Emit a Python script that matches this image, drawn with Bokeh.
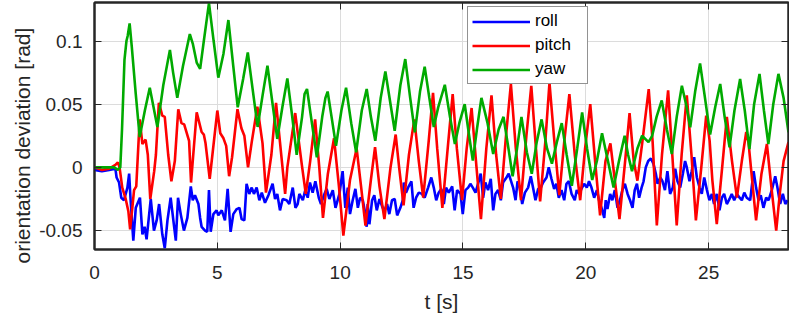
from bokeh.plotting import figure
from bokeh.models import (FixedTicker, NumeralTickFormatter, LinearAxis, Range1d,
                          CustomJSTickFormatter, Title)
from bokeh.embed import file_html
from bokeh.resources import INLINE

x_ticks = [0, 5, 10, 15, 20, 25]
y_ticks = [-0.05, 0, 0.05, 0.1]

roll_t = [
0.00, 0.30, 0.60, 0.85, 0.90, 1.00, 1.09, 1.20, 1.34, 1.41, 1.47, 1.58, 1.68, 1.85, 1.95, 2.04, 2.12, 2.29, 2.42, 2.53,
2.63, 2.76, 2.86, 2.97, 3.10, 3.21, 3.31, 3.40, 3.51, 3.64, 3.78, 3.92, 4.00, 4.09, 4.23, 4.30, 4.36, 4.50, 4.59, 4.66,
4.73, 4.84, 4.97, 5.04, 5.18, 5.31, 5.42, 5.54, 5.65, 5.79, 5.90, 5.99, 6.10, 6.19, 6.30, 6.40, 6.49, 6.60, 6.71, 6.81,
6.94, 7.08, 7.25, 7.35, 7.44, 7.55, 7.66, 7.82, 7.93, 8.07, 8.18, 8.27, 8.34, 8.48, 8.58, 8.68, 8.77, 8.88, 8.99, 9.13,
9.22, 9.36, 9.45, 9.56, 9.70, 9.81, 9.97, 10.10, 10.21, 10.31, 10.40, 10.51, 10.62, 10.72, 10.81, 10.92, 11.03, 11.08, 11.12, 11.19,
11.30, 11.39, 11.49, 11.60, 11.73, 11.81, 11.91, 12.00, 12.11, 12.22, 12.32, 12.45, 12.55, 12.59, 12.68, 12.79, 12.90, 12.99, 13.09, 13.20,
13.33, 13.44, 13.58, 13.71, 13.81, 13.91, 14.01, 14.12, 14.22, 14.31, 14.42, 14.56, 14.66, 14.76, 14.90, 14.99, 15.10, 15.21, 15.30, 15.40,
15.51, 15.64, 15.72, 15.82, 15.91, 16.02, 16.13, 16.23, 16.32, 16.43, 16.54, 16.63, 16.77, 16.86, 17.04, 17.14, 17.22, 17.31, 17.41, 17.52,
17.65, 17.76, 17.85, 17.95, 18.06, 18.17, 18.26, 18.40, 18.49, 18.60, 18.71, 18.80, 18.90, 19.01, 19.12, 19.21, 19.31, 19.42, 19.55, 19.63,
19.73, 19.82, 19.93, 20.04, 20.13, 20.23, 20.34, 20.45, 20.54, 20.64, 20.75, 20.81, 20.88, 20.99, 21.08, 21.18, 21.29, 21.40, 21.49, 21.59,
21.70, 21.80, 21.90, 21.99, 22.08, 22.17, 22.27, 22.35, 22.44, 22.54, 22.65, 22.75, 22.85, 22.92, 23.03, 23.12, 23.22, 23.32, 23.43, 23.54,
23.64, 23.73, 23.84, 23.95, 24.04, 24.11, 24.22, 24.31, 24.41, 24.52, 24.63, 24.72, 24.82, 24.93, 25.03, 25.13, 25.22, 25.33, 25.44, 25.54,
25.63, 25.74, 25.85, 25.94, 26.04, 26.15, 26.26, 26.35, 26.45, 26.55, 26.69, 26.83, 26.93, 27.03, 27.12, 27.23, 27.34, 27.44, 27.57, 27.71,
27.80, 27.91, 28.02, 28.12, 28.21]
roll = [
-0.002, -0.003, -0.002, -0.001, -0.008, -0.012, -0.024, -0.026, -0.016, -0.005, -0.026, -0.058, -0.032, -0.024, -0.053, -0.047, -0.057, -0.025, -0.050, -0.042,
-0.029, -0.053, -0.064, -0.042, -0.024, -0.042, -0.058, -0.024, -0.037, -0.050, -0.040, -0.015, -0.026, -0.022, -0.029, -0.040, -0.047, -0.050, -0.051, -0.018,
-0.051, -0.037, -0.034, -0.038, -0.034, -0.042, -0.017, -0.051, -0.037, -0.033, -0.032, -0.041, -0.042, -0.013, -0.021, -0.016, -0.021, -0.016, -0.026, -0.020,
-0.028, -0.022, -0.013, -0.025, -0.021, -0.034, -0.025, -0.026, -0.029, -0.016, -0.032, -0.029, -0.021, -0.026, -0.018, -0.024, -0.012, -0.020, -0.011, -0.024,
-0.029, -0.021, -0.017, -0.025, -0.018, -0.032, -0.021, -0.003, -0.032, -0.016, -0.037, -0.026, -0.017, -0.032, -0.024, -0.026, -0.037, -0.047, -0.029, -0.045,
-0.026, -0.022, -0.034, -0.025, -0.032, -0.034, -0.029, -0.037, -0.026, -0.025, -0.038, -0.032, -0.026, -0.012, -0.020, -0.015, -0.011, -0.032, -0.024, -0.020,
-0.021, -0.024, -0.016, -0.008, -0.016, -0.026, -0.020, -0.017, -0.029, -0.016, -0.020, -0.015, -0.034, -0.018, -0.021, -0.037, -0.018, -0.016, -0.013, -0.016,
-0.020, -0.011, -0.005, -0.024, -0.012, -0.018, -0.009, -0.034, -0.021, -0.018, -0.026, -0.012, -0.008, -0.005, -0.016, -0.026, -0.011, -0.016, -0.029, -0.020,
-0.016, -0.007, -0.016, -0.026, -0.017, -0.016, -0.012, -0.008, 0.000, -0.009, -0.017, -0.013, -0.024, -0.018, -0.026, -0.013, -0.011, -0.021, -0.026, -0.018,
-0.021, -0.017, -0.013, -0.016, -0.011, -0.016, -0.024, -0.018, -0.026, -0.032, -0.040, -0.026, -0.033, -0.021, -0.026, -0.018, -0.032, -0.025, -0.018, -0.013,
-0.021, -0.026, -0.032, -0.018, -0.013, -0.024, -0.016, -0.011, 0.000, 0.005, 0.007, 0.003, -0.005, -0.013, -0.008, -0.011, -0.018, -0.003, -0.021, -0.016,
-0.001, -0.011, -0.016, -0.005, 0.005, 0.000, -0.011, -0.003, 0.008, -0.008, -0.016, -0.021, -0.008, -0.018, -0.026, -0.021, -0.029, -0.021, -0.034, -0.024,
-0.021, -0.029, -0.025, -0.021, -0.026, -0.021, -0.024, -0.026, -0.020, -0.024, -0.026, -0.003, -0.016, -0.026, -0.022, -0.032, -0.024, -0.026, -0.018, -0.007,
-0.016, -0.029, -0.021, -0.029, -0.026]

pitch_t = [
0.00, 0.30, 0.60, 0.85, 0.95, 1.02, 1.13, 1.27, 1.38, 1.45, 1.55, 1.61, 1.70, 1.84, 1.95, 2.08, 2.17, 2.27, 2.43, 2.50,
2.62, 2.76, 2.86, 3.00, 3.13, 3.27, 3.41, 3.54, 3.65, 3.85, 3.93, 4.02, 4.16, 4.36, 4.45, 4.52, 4.69, 4.80, 5.00, 5.12,
5.25, 5.36, 5.48, 5.60, 5.82, 5.98, 6.10, 6.25, 6.40, 6.63, 6.84, 6.98, 7.20, 7.39, 7.55, 7.76, 7.85, 8.17, 8.44, 8.60,
8.78, 8.98, 9.15, 9.30, 9.50, 9.75, 9.95, 10.13, 10.40, 10.67, 10.85, 11.03, 11.25, 11.42, 11.60, 11.80, 12.05, 12.26, 12.40, 12.58,
12.80, 13.02, 13.20, 13.38, 13.60, 13.78, 13.95, 14.16, 14.40, 14.58, 14.75, 14.96, 15.15, 15.35, 15.55, 15.73, 15.95, 16.16, 16.35, 16.54,
16.75, 16.95, 17.15, 17.36, 17.58, 17.78, 17.95, 18.14, 18.35, 18.52, 18.70, 18.92, 19.12, 19.33, 19.55, 19.77, 19.97, 20.18, 20.40, 20.58,
20.80, 21.00, 21.18, 21.37, 21.60, 21.78, 21.95, 22.10, 22.30, 22.56, 22.72, 22.89, 23.10, 23.35, 23.52, 23.70, 23.90, 24.11, 24.30, 24.48,
24.70, 24.90, 25.04, 25.15, 25.33, 25.55, 25.74, 25.95, 26.15, 26.35, 26.53, 26.62, 26.93, 27.15, 27.37, 27.55, 27.75, 27.90, 28.05, 28.25]
pitch = [
0.000, -0.002, -0.001, 0.002, 0.004, 0.000, -0.016, -0.025, -0.035, -0.049, -0.030, -0.018, -0.015, 0.038, 0.0185, 0.022, 0.010, -0.025, -0.003, 0.010,
0.051, 0.041, 0.040, 0.010, -0.011, 0.005, 0.046, 0.035, 0.034, 0.021, -0.012, 0.010, 0.0435, 0.028, 0.026, 0.019, -0.009, 0.010, 0.045, 0.027,
0.023, 0.017, -0.007, 0.008, 0.046, 0.031, 0.025, 0.000, 0.020, 0.048, 0.019, -0.020, 0.010, 0.051, 0.020, -0.021, 0.000, 0.043, 0.002, -0.021,
0.005, 0.038, 0.000, -0.040, -0.005, 0.023, -0.015, -0.054, -0.010, 0.015, -0.015, -0.046, -0.010, 0.016, -0.015, -0.041, 0.000, 0.026, 0.000, -0.030,
0.010, 0.038, 0.005, -0.024, 0.020, 0.059, 0.015, -0.032, 0.020, 0.058, 0.015, -0.026, 0.015, 0.047, 0.000, -0.041, 0.015, 0.057, 0.010, -0.025,
0.025, 0.066, 0.015, -0.026, 0.025, 0.0646, 0.020, -0.027, 0.020, 0.067, 0.025, -0.022, 0.020, 0.058, 0.010, -0.026, 0.015, 0.050, 0.000, -0.038,
0.005, 0.019, -0.010, -0.041, 0.005, 0.043, 0.005, -0.0105, 0.020, 0.062, 0.020, -0.046, 0.010, 0.061, 0.010, -0.046, 0.010, 0.057, 0.010, -0.042,
0.000, 0.041, 0.021, -0.010, -0.045, 0.000, 0.040, 0.005, -0.024, 0.005, 0.028, 0.020, -0.042, -0.005, 0.0185, -0.015, -0.050, -0.020, 0.005, 0.020]

yaw_t = [
0.00, 0.50, 0.80, 0.95, 1.05, 1.12, 1.22, 1.30, 1.35, 1.43, 1.52, 1.68, 1.84, 2.05, 2.25, 2.40, 2.56, 2.80, 3.07, 3.20,
3.37, 3.60, 3.88, 4.00, 4.16, 4.30, 4.45, 4.66, 4.85, 5.04, 5.25, 5.45, 5.65, 5.83, 6.05, 6.24, 6.45, 6.64, 6.85, 7.04,
7.25, 7.44, 7.65, 7.85, 8.05, 8.23, 8.45, 8.55, 8.65, 8.85, 9.05, 9.27, 9.40, 9.49, 9.65, 9.83, 10.05, 10.24, 10.45, 10.65,
10.88, 11.08, 11.25, 11.43, 11.65, 11.84, 12.05, 12.22, 12.45, 12.65, 12.85, 13.04, 13.25, 13.44, 13.63, 13.81, 13.99, 14.26, 14.47, 14.67,
14.85, 15.07, 15.25, 15.40, 15.58, 15.75, 16.00, 16.23, 16.45, 16.65, 16.85, 17.02, 17.20, 17.38, 17.60, 17.80, 18.00, 18.20, 18.42, 18.62,
18.82, 19.02, 19.22, 19.43, 19.65, 19.85, 20.05, 20.26, 20.45, 20.66, 20.90, 21.13, 21.35, 21.58, 21.72, 21.88, 22.10, 22.29, 22.55, 22.70,
22.88, 23.09, 23.30, 23.50, 23.70, 23.91, 24.08, 24.25, 24.45, 24.65, 24.85, 25.06, 25.27, 25.47, 25.65, 25.85, 26.05, 26.28, 26.47, 26.66,
26.85, 27.07, 27.25, 27.43, 27.63, 27.84, 28.05, 28.25]
yaw = [
0.000, 0.000, 0.000, -0.002, 0.000, 0.030, 0.085, 0.100, 0.104, 0.114, 0.095, 0.058, 0.024, 0.045, 0.063, 0.048, 0.032, 0.065, 0.093, 0.075,
0.055, 0.080, 0.1055, 0.098, 0.083, 0.078, 0.100, 0.130, 0.100, 0.071, 0.090, 0.1166, 0.080, 0.0475, 0.070, 0.091, 0.060, 0.032, 0.058, 0.0805,
0.050, 0.0225, 0.048, 0.0704, 0.040, 0.010, 0.040, 0.058, 0.062, 0.035, 0.008, 0.040, 0.055, 0.060, 0.040, 0.017, 0.045, 0.063, 0.035, 0.012,
0.045, 0.062, 0.040, 0.021, 0.055, 0.076, 0.050, 0.029, 0.065, 0.0857, 0.055, 0.0277, 0.060, 0.0797, 0.055, 0.032, 0.0475, 0.0654, 0.040, 0.0185,
0.035, 0.050, 0.025, 0.0053, 0.032, 0.055, 0.035, 0.0106, 0.030, 0.040, 0.015, -0.007, 0.015, 0.040, 0.012, -0.005, 0.020, 0.038, 0.015, 0.003,
0.020, 0.035, 0.010, -0.0145, 0.015, 0.0435, 0.015, -0.010, 0.005, 0.027, 0.005, -0.016, 0.005, 0.025, 0.010, -0.003, 0.015, 0.025, 0.020, 0.025,
0.040, 0.053, 0.030, 0.0106, 0.040, 0.0646, 0.050, 0.0317, 0.060, 0.0823, 0.055, 0.026, 0.048, 0.066, 0.040, 0.0158, 0.045, 0.070, 0.045, 0.0145,
0.050, 0.074, 0.045, 0.0185, 0.050, 0.074, 0.055, 0.0277]

FONT = "Liberation Sans"
DARK = "#262626"

p = figure(width=789, height=315, output_backend="svg", toolbar_location=None,
           x_range=Range1d(0, 28.25), y_range=Range1d(-0.065, 0.1305),
           min_border_left=94, min_border_right=1, min_border_top=2, min_border_bottom=66)
p.background_fill_color = "white"
p.border_fill_color = "white"
p.outline_line_color = DARK
p.outline_line_width = 2
p.outline_line_alpha = 1

p.line(roll_t, roll, line_color="#0000ff", line_width=2.6, legend_label="roll")
p.line(pitch_t, pitch, line_color="#ff0000", line_width=2.6, legend_label="pitch")
p.line(yaw_t, yaw, line_color="#00aa00", line_width=2.6, legend_label="yaw")

for ax in (p.xaxis[0], p.yaxis[0]):
    ax.axis_line_color = DARK
    ax.axis_line_width = 2
    ax.major_tick_in = 7
    ax.major_tick_out = 0
    ax.minor_tick_line_color = None
    ax.major_tick_line_color = DARK
    ax.major_tick_line_width = 1
    ax.major_label_text_font = FONT
    ax.major_label_text_font_size = "19px"
    ax.major_label_text_color = DARK

p.xaxis.ticker = FixedTicker(ticks=x_ticks)
p.yaxis.ticker = FixedTicker(ticks=y_ticks)
p.xaxis.formatter = NumeralTickFormatter(format="0")
p.yaxis.formatter = NumeralTickFormatter(format="0.[00]")
p.xaxis.axis_label = "t [s]"
p.xaxis.axis_label_text_font = FONT
p.xaxis.axis_label_text_font_size = "21px"
p.xaxis.axis_label_text_font_style = "normal"
p.xaxis.axis_label_text_color = DARK
p.xaxis.major_label_standoff = 16
p.yaxis.major_label_standoff = 12
p.xaxis.axis_label_standoff = 8

# y label as a side title, anchored near the bottom like the original
ytitle = Title(text="orientation deviation [rad]", align="left", offset=-14,
               text_font=FONT, text_font_size="21px", text_font_style="normal",
               text_color=DARK, standoff=6)
p.add_layout(ytitle, "left")

p.xgrid.ticker = FixedTicker(ticks=x_ticks)
p.ygrid.ticker = FixedTicker(ticks=y_ticks)
p.grid.grid_line_color = "#dcdcdc"
p.grid.grid_line_width = 1

# mirrored tick marks on top and right
blank = CustomJSTickFormatter(code="return ''")
for loc, ticks in (("right", y_ticks), ("above", x_ticks)):
    ax = LinearAxis(ticker=FixedTicker(ticks=ticks), formatter=blank)
    ax.axis_line_color = DARK
    ax.axis_line_width = 2
    ax.major_tick_in = 7
    ax.major_tick_out = 0
    ax.minor_tick_line_color = None
    ax.major_tick_line_color = DARK
    ax.major_label_text_font_size = "1px"
    ax.major_label_standoff = 0
    p.add_layout(ax, loc)

lg = p.legend[0]
lg.location = (373, 165)
lg.border_line_color = DARK
lg.border_line_width = 1.5
lg.background_fill_color = "white"
lg.background_fill_alpha = 1
lg.label_text_font = FONT
lg.label_text_font_size = "17px"
lg.label_text_color = "#000000"
lg.glyph_width = 58
lg.glyph_height = 19
lg.label_height = 19
lg.label_width = 48
lg.label_standoff = 5
lg.spacing = 4
lg.padding = 4
lg.margin = 0

open("out.html", "w").write(file_html(p, INLINE))
